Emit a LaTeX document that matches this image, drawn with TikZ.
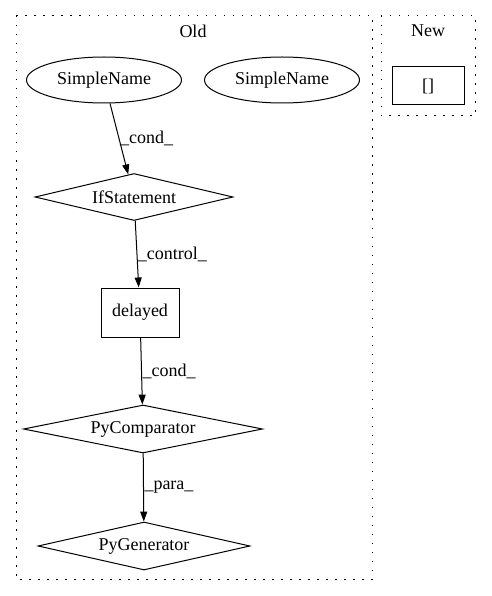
\documentclass[tikz,border=0pt]{standalone}
\usepackage{fontspec}
\setmainfont{Liberation Serif}
\usepackage{tikz}
\usetikzlibrary{arrows.meta,shapes,positioning}
\tikzset{
  namenode/.style={draw, ellipse, minimum width=155pt, minimum height=46pt, inner sep=0pt},
  testnode/.style={draw, diamond, aspect=4, minimum height=47pt, inner sep=0pt},
  callnode/.style={draw, rectangle, minimum width=78pt, minimum height=49pt, inner sep=0pt},
  cluster/.style={draw, dash pattern=on 1.5pt off 7.5pt, line width=1pt},
  flow/.style={-{Triangle[length=10pt,width=7pt]}, line width=1pt},
  flowlabel/.style={right, inner sep=0.5pt}
}
\begin{document}
\begin{tikzpicture}[x=1pt, y=-1pt, line width=1pt, font=\fontsize{18}{20}\selectfont]
  \useasboundingbox (0,0) rectangle (491,596);
  \draw[cluster] (16,16) rectangle (372,579);
  \node (oldlabel) at (193,31) {Old};
  \draw[cluster] (381,16) rectangle (475,116);
  \node (newlabel) at (428,31) {New};

  \node[namenode] (name1) at (104,80) {SimpleName};
  \node[namenode] (name2) at (282,80) {SimpleName};
  \node[testnode, minimum width=198pt] (ifstmt) at (134,197) {IfStatement};
  \node[callnode] (delayed) at (140,312.5) {delayed};
  \node[testnode, minimum width=239pt, minimum height=48pt] (cmp) at (143,429) {PyComparator};
  \node[testnode, minimum width=212pt, minimum height=48pt] (gen) at (144,546) {PyGenerator};
  \node[callnode, minimum width=72pt, minimum height=38pt] (list) at (428,86) {[]};

  \draw[flow] (name1) -- node[flowlabel] {\_cond\_} (ifstmt);
  \draw[flow] (ifstmt) -- node[flowlabel] {\_control\_} (delayed);
  \draw[flow] (delayed) -- node[flowlabel] {\_cond\_} (cmp);
  \draw[flow] (cmp) -- node[flowlabel] {\_para\_} (gen);
\end{tikzpicture}
\end{document}
